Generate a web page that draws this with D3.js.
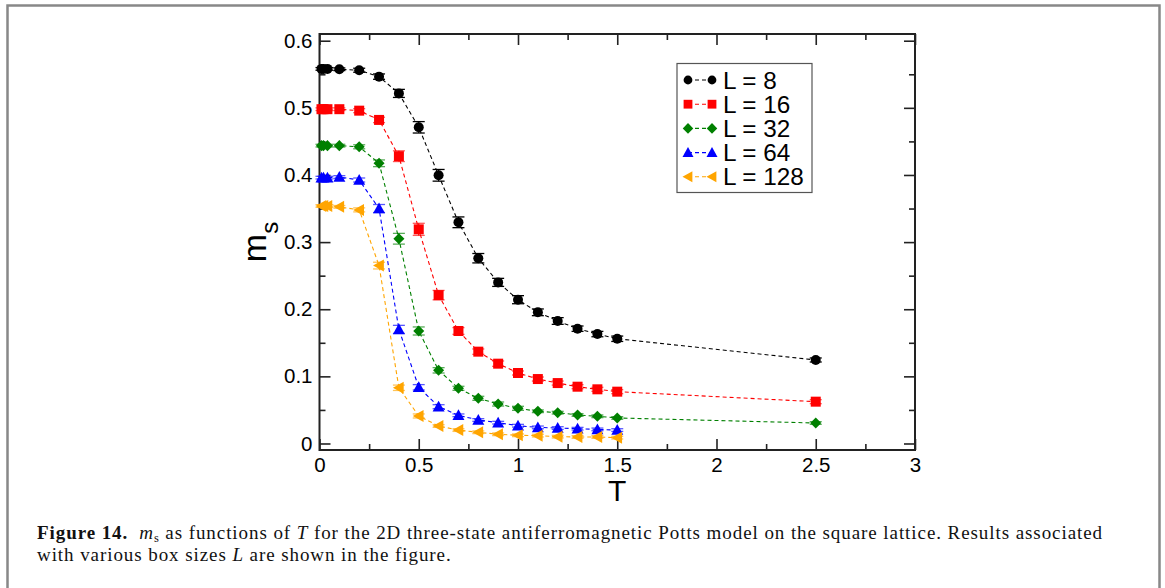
<!DOCTYPE html>
<html>
<head>
<meta charset="utf-8">
<script src="https://cdn.jsdelivr.net/npm/d3@7"></script>
<style>
  html, body { margin: 0; padding: 0; background: #fff; }
  svg { display: block; }
</style>
</head>
<body>
<svg id="chart" width="1165" height="588"></svg>
<script>
// ---------------- data ----------------
const tValues = [0.01, 0.02, 0.04, 0.1, 0.2, 0.3, 0.4, 0.5, 0.6, 0.7, 0.8, 0.9, 1.0, 1.1, 1.2, 1.3, 1.4, 1.5, 2.5];

const msL8   = [0.558, 0.558, 0.558, 0.5575, 0.556, 0.5465, 0.5215, 0.471, 0.3995, 0.3295, 0.276, 0.240, 0.2142, 0.1954, 0.1825, 0.171, 0.163, 0.156, 0.1244];
const errL8  = [0.002, 0.002, 0.002, 0.002, 0.003, 0.004, 0.006, 0.0085, 0.0087, 0.008, 0.007, 0.006, 0.006, 0.005, 0.005, 0.004, 0.004, 0.004, 0.003];
const msL16  = [0.498, 0.498, 0.498, 0.498, 0.4958, 0.482, 0.428, 0.319, 0.221, 0.1676, 0.1368, 0.1189, 0.105, 0.096, 0.090, 0.0846, 0.0807, 0.0772, 0.0623];
const errL16 = [0.002, 0.002, 0.002, 0.002, 0.003, 0.004, 0.008, 0.009, 0.007, 0.005, 0.004, 0.004, 0.003, 0.003, 0.003, 0.003, 0.003, 0.003, 0.003];
const msL32  = [0.4437, 0.4437, 0.4437, 0.4437, 0.442, 0.4174, 0.305, 0.1676, 0.109, 0.0822, 0.0673, 0.0588, 0.0524, 0.048, 0.0459, 0.0425, 0.0405, 0.038, 0.0305];
const errL32 = [0.002, 0.002, 0.002, 0.002, 0.003, 0.005, 0.008, 0.006, 0.004, 0.003, 0.003, 0.003, 0.003, 0.002, 0.002, 0.002, 0.002, 0.002, 0.002];
const msL64  = [0.396, 0.396, 0.396, 0.397, 0.3925, 0.350, 0.170, 0.0837, 0.0548, 0.042, 0.035, 0.031, 0.0265, 0.024, 0.023, 0.022, 0.021, 0.020];
const errL64 = [0.002, 0.002, 0.002, 0.002, 0.003, 0.006, 0.006, 0.004, 0.003, 0.002, 0.002, 0.002, 0.002, 0.002, 0.002, 0.002, 0.002, 0.002];
const msL128  = [0.3538, 0.3538, 0.3538, 0.3525, 0.348, 0.265, 0.083, 0.041, 0.026, 0.020, 0.0167, 0.0137, 0.0122, 0.0117, 0.0102, 0.0097, 0.0097, 0.0087];
const errL128 = [0.002, 0.002, 0.002, 0.002, 0.003, 0.005, 0.004, 0.003, 0.002, 0.002, 0.002, 0.002, 0.002, 0.002, 0.002, 0.002, 0.002, 0.002];

const seriesNames  = ["L = 8", "L = 16", "L = 32", "L = 64", "L = 128"];
const seriesColors = ["#000000", "#ff0000", "#008000", "#0000ff", "#ffa500"];
const seriesShapes = ["circle", "square", "diamond", "triUp", "triLeft"];
const seriesValues = [msL8, msL16, msL32, msL64, msL128];
const seriesErrors = [errL8, errL16, errL32, errL64, errL128];

const xMajorTicks = [0, 0.5, 1, 1.5, 2, 2.5, 3];
const xTickLabels = ["0", "0.5", "1", "1.5", "2", "2.5", "3"];
const yMajorTicks = [0, 0.1, 0.2, 0.3, 0.4, 0.5, 0.6];
const yTickLabels = ["0", "0.1", "0.2", "0.3", "0.4", "0.5", "0.6"];
const xMinorTicks = [0.25, 0.75, 1.25, 1.75, 2.25, 2.75];
const yMinorTicks = [0.05, 0.15, 0.25, 0.35, 0.45, 0.55];

// ---------------- layout ----------------
const svg = d3.select("#chart");
const plot = { left: 319.5, right: 915, top: 34, bottom: 450 };
const x = d3.scaleLinear().domain([0, 3]).range([plot.left, plot.right]);
const y = d3.scaleLinear().domain([-0.0097, 0.61]).range([plot.bottom, plot.top]);

// outer page frame (left, top, right)
svg.append("path")
  .attr("d", `M7.5,600 L7.5,5.5 L1159.5,5.5 L1159.5,600`)
  .attr("fill", "none").attr("stroke", "#888").attr("stroke-width", 2.5);

const axisColor = "#222";
const tickFont = "'Liberation Sans', Arial, sans-serif";

function styleAxis(g, showLabels) {
  g.select(".domain").remove();
  g.selectAll(".tick line").attr("stroke", axisColor).attr("stroke-width", 1.6);
  g.selectAll(".tick text").attr("fill", "#000").style("font-family", tickFont).style("font-size", "20.5px");
  if (!showLabels) g.selectAll(".tick text").remove();
}

// major axes
svg.append("g").attr("transform", `translate(0,${plot.bottom})`)
  .call(d3.axisBottom(x).tickValues(xMajorTicks).tickFormat((d, i) => xTickLabels[i]).tickSizeInner(-11).tickSizeOuter(0).tickPadding(7.5))
  .call(g => styleAxis(g, true));
svg.append("g").attr("transform", `translate(0,${plot.top})`)
  .call(d3.axisTop(x).tickValues(xMajorTicks).tickSizeInner(-11).tickSizeOuter(0))
  .call(g => styleAxis(g, false));
svg.append("g").attr("transform", `translate(${plot.left},0)`)
  .call(d3.axisLeft(y).tickValues(yMajorTicks).tickFormat((d, i) => yTickLabels[i]).tickSizeInner(-11).tickSizeOuter(0).tickPadding(7))
  .call(g => styleAxis(g, true));
svg.append("g").attr("transform", `translate(${plot.right},0)`)
  .call(d3.axisRight(y).tickValues(yMajorTicks).tickSizeInner(-11).tickSizeOuter(0))
  .call(g => styleAxis(g, false));
// minor axes
svg.append("g").attr("transform", `translate(0,${plot.bottom})`)
  .call(d3.axisBottom(x).tickValues(xMinorTicks).tickSizeInner(-6).tickSizeOuter(0)).call(g => styleAxis(g, false));
svg.append("g").attr("transform", `translate(0,${plot.top})`)
  .call(d3.axisTop(x).tickValues(xMinorTicks).tickSizeInner(-6).tickSizeOuter(0)).call(g => styleAxis(g, false));
svg.append("g").attr("transform", `translate(${plot.left},0)`)
  .call(d3.axisLeft(y).tickValues(yMinorTicks).tickSizeInner(-6).tickSizeOuter(0)).call(g => styleAxis(g, false));
svg.append("g").attr("transform", `translate(${plot.right},0)`)
  .call(d3.axisRight(y).tickValues(yMinorTicks).tickSizeInner(-6).tickSizeOuter(0)).call(g => styleAxis(g, false));

// frame
svg.append("rect")
  .attr("x", plot.left).attr("y", plot.top)
  .attr("width", plot.right - plot.left).attr("height", plot.bottom - plot.top)
  .attr("fill", "none").attr("stroke", axisColor).attr("stroke-width", 2);

// marker shapes
function shapePath(shape, s) {
  switch (shape) {
    case "circle": return d3.symbol(d3.symbolCircle, Math.PI * s * s)();
    case "square": return `M${-s},${-s}H${s}V${s}H${-s}Z`;
    case "diamond": { const r = s * 1.2; return `M0,${-r}L${r},0L0,${r}L${-r},0Z`; }
    case "triUp": { const r = s * 1.25; return `M0,${-r}L${r},${r * 0.8}L${-r},${r * 0.8}Z`; }
    case "triLeft": { const r = s * 1.25; return `M${-r},0L${r * 0.8},${-r}L${r * 0.8},${r}Z`; }
  }
}

const line = d3.line().x(d => x(d.t)).y(d => y(d.v));
const markerSize = [5, 5, 4.6, 4.8, 4.8];

seriesValues.forEach((vals, si) => {
  const color = seriesColors[si];
  const pts = vals.map((v, i) => ({ t: tValues[i], v: v, e: seriesErrors[si][i] }));
  const g = svg.append("g");
  g.append("path").datum(pts).attr("d", line)
    .attr("fill", "none").attr("stroke", color).attr("stroke-width", 1.1)
    .attr("stroke-dasharray", "4,3");
  // error bars
  const eb = g.selectAll(".eb").data(pts).enter().append("g");
  eb.append("line").attr("x1", d => x(d.t)).attr("x2", d => x(d.t))
    .attr("y1", d => y(d.v - d.e)).attr("y2", d => y(d.v + d.e))
    .attr("stroke", color).attr("stroke-width", 1.2);
  [1, -1].forEach(sg => {
    eb.append("line").attr("x1", d => x(d.t) - 6).attr("x2", d => x(d.t) + 6)
      .attr("y1", d => y(d.v + sg * d.e)).attr("y2", d => y(d.v + sg * d.e))
      .attr("stroke", color).attr("stroke-width", 1.3).attr("opacity", si === 0 ? 1 : 0.65);
  });
  g.selectAll(".mk").data(pts).enter().append("path")
    .attr("transform", d => `translate(${x(d.t)},${y(d.v)})`)
    .attr("d", shapePath(seriesShapes[si], markerSize[si]))
    .attr("fill", color);
});

// axis titles
svg.append("text")
  .attr("x", (plot.left + plot.right) / 2).attr("y", 501)
  .attr("text-anchor", "middle")
  .style("font-family", tickFont).style("font-size", "30px")
  .text("T");
const yt = svg.append("text")
  .attr("transform", `translate(266,${(plot.top + plot.bottom) / 2}) rotate(-90)`)
  .attr("text-anchor", "middle")
  .style("font-family", tickFont).style("font-size", "34px");
yt.append("tspan").text("m");
yt.append("tspan").attr("dy", 12).style("font-size", "24px").text("s");

// legend
const lg = svg.append("g");
lg.append("rect").attr("x", 677).attr("y", 63.5).attr("width", 135).attr("height", 129)
  .attr("fill", "#fff").attr("stroke", "#555").attr("stroke-width", 1.2);
seriesNames.forEach((name, i) => {
  const cy = 80 + i * 24.2;
  lg.append("line").attr("x1", 688).attr("x2", 712).attr("y1", cy).attr("y2", cy)
    .attr("stroke", seriesColors[i]).attr("stroke-width", 1.1).attr("stroke-dasharray", "4,3");
  [688, 712].forEach(px => {
    lg.append("path").attr("transform", `translate(${px},${cy})`)
      .attr("d", shapePath(seriesShapes[i], 4.4)).attr("fill", seriesColors[i]);
  });
  lg.append("text").attr("x", 723).attr("y", cy + 8.5)
    .style("font-family", tickFont).style("font-size", "24.3px").text(name);
});

// caption
const capFont = "'Liberation Serif', 'Times New Roman', serif";
const capLeft = 37, capRight = 1092, capSize = 19;
const c1 = svg.append("text").attr("x", capLeft).attr("y", 538.5)
  .style("font-family", capFont).style("font-size", capSize + "px").attr("fill", "#111");
c1.append("tspan").style("font-weight", "bold").text("Figure 14.");
c1.append("tspan").attr("dx", 11).style("font-style", "italic").text("m");
c1.append("tspan").attr("dy", 3.5).style("font-size", "12.5px").text("s");
c1.append("tspan").attr("dy", -3.5).text(" as functions of ");
c1.append("tspan").style("font-style", "italic").text("T");
c1.append("tspan").text(" for the 2D three-state antiferromagnetic Potts model on the square lattice. Results associated");
const c2 = svg.append("text").attr("x", capLeft).attr("y", 560.5)
  .style("font-family", capFont).style("font-size", capSize + "px").attr("fill", "#111");
c2.append("tspan").text("with various box sizes ");
c2.append("tspan").style("font-style", "italic").text("L");
c2.append("tspan").text(" are shown in the figure.");
// widen the serif glyph spacing so the first line spans the reference width
const natural = c1.node().getComputedTextLength();
const nChars = c1.text().length;
const ls = (capRight - capLeft - natural) / nChars;
c1.style("letter-spacing", ls + "px");
c2.style("letter-spacing", ls + "px");
</script>
</body>
</html>
